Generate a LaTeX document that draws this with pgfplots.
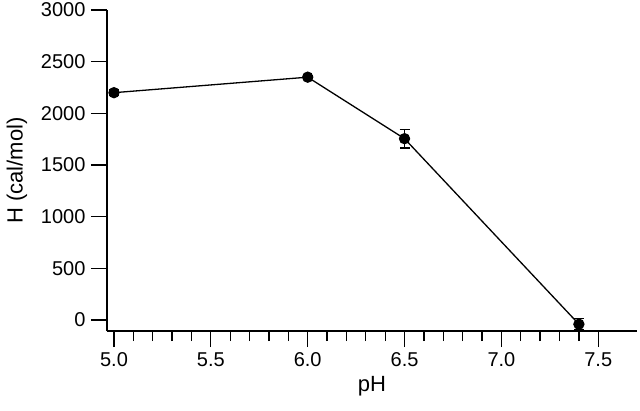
\documentclass[border=0pt]{standalone}
\usepackage{fontspec}
\setmainfont{Liberation Sans}
\usepackage{pgfplots}
\pgfplotsset{compat=1.18}

\begin{document}
\begin{tikzpicture}
\begin{axis}[
  scale only axis, width=530pt, height=321pt,
  xmin=4.964, xmax=7.7, ymin=-106, ymax=3000,
  axis x line=bottom, axis y line=left,
  axis line style={-, line width=1.3pt},
  tick align=outside,
  xtick={5,5.5,6,6.5,7,7.5}, minor x tick num=4,
  ytick={0,500,1000,1500,2000,2500,3000},
  major tick length=16pt, minor tick length=10pt,
  every tick/.style={black, line width=1.3pt},
  xticklabel style={/pgf/number format/.cd, fixed, fixed zerofill, precision=1},
  yticklabel style={/pgf/number format/1000 sep={}},
  /pgf/number format/assume math mode=true,
  tick label style={font=\fontsize{20}{22}\selectfont},
  label style={font=\fontsize{22}{24}\selectfont},
  xticklabel shift=2pt, yticklabel shift=2pt,
  xlabel={pH}, ylabel={H (cal/mol)},
  xlabel shift=3pt, ylabel shift=7pt,
]
\addplot[black, line width=1.3pt, mark=*, mark size=5pt,
  error bars/.cd, y dir=both, y explicit,
  error bar style={line width=1.3pt},
  error mark options={rotate=90, mark size=5pt, line width=1.3pt}]
  coordinates {
  (5.0,2200) +- (0,25)
  (6.0,2350) +- (0,15)
  (6.5,1755) +- (0,90)
  (7.4,-40) +- (0,55)
};
\end{axis}
\pgfresetboundingbox
\useasboundingbox (-107pt,-79pt) rectangle (533pt,331pt);
\end{tikzpicture}
\end{document}
